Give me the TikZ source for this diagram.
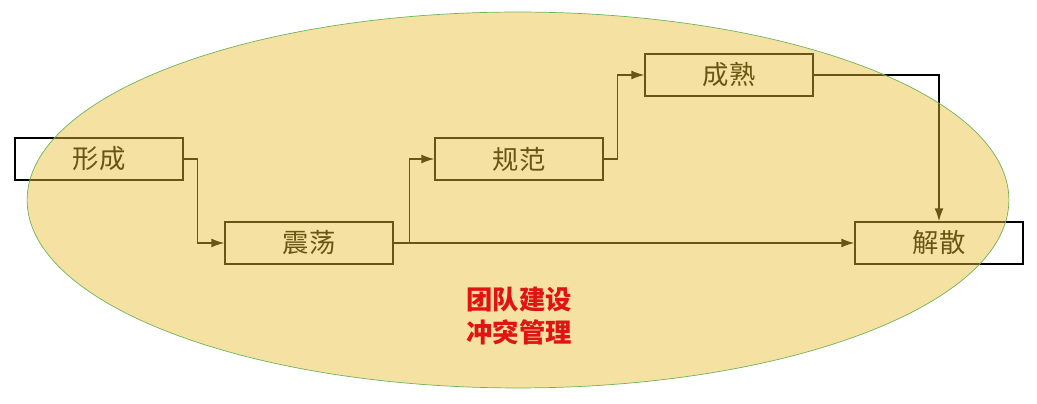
\documentclass[tikz,border=0pt]{standalone}
\usepackage{fontspec}
\setmainfont{Noto Sans CJK SC}
\usetikzlibrary{arrows.meta, calc, shapes.geometric}
\definecolor{ovalc1}{RGB}{233,191,48}
\definecolor{ovalc2}{RGB}{110,180,90}
\definecolor{textc1}{RGB}{225,20,20}
\tikzset{
	stage/.style={draw, thick, minimum width=3.36cm, minimum height=0.84cm, inner sep=0pt, font=\fontsize{15}{17}\selectfont},
	flow/.style={thick, -{Latex[length=2.6mm,width=1.8mm]}}
}

\begin{document}
\begin{tikzpicture}[x=0.02cm, y=-0.02cm]
					\useasboundingbox (0,0) rectangle (1037,404);
					\node[stage] (xc) at (99,159) {形成};
					\node[stage] (zd) at (309,243) {震荡};
					\node[stage] (gf) at (519,159) {规范};
					\node[stage] (cs) at (729,75) {成熟};
					\node[stage] (js) at (939,243) {解散};
					
					\draw[flow] (xc.east) -- ++(14,0) |- (zd.west);
					\draw[flow] (zd.east) -- ++(16,0) |- (gf.west);
					\draw[flow] (gf.east) -- ++(14,0) |- (cs.west);
					\draw[flow] (cs.east) -| (js.north);
					\draw[flow] (zd.east) -- (js.west);
					
					\node[draw=ovalc2, fill=ovalc1, fill opacity=0.45, ellipse, minimum width=19.64cm, minimum height=7.52cm] (team) at (518,200) {};
					\node[text=textc1, align=center, font=\fontsize{15}{18.7}\selectfont\bfseries] (conf) at (519,316) {团队建设\\冲突管理};
					\end{tikzpicture}
\end{document}
